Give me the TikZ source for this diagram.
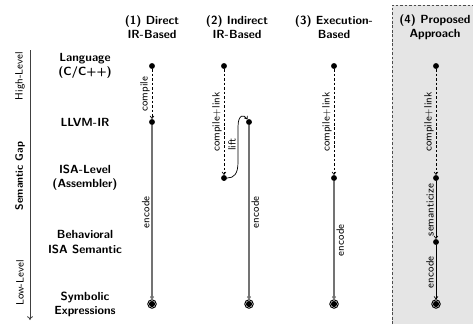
\documentclass[tikz,border=0pt]{standalone}
\usetikzlibrary{arrows.meta}
\begin{document}
\begin{tikzpicture}[x=0.8475pt, y=-0.8475pt,
  >={To[length=2.6pt,width=3.6pt]},
  hdr/.style={font=\sffamily\bfseries, align=center, inner sep=0pt},
  rowlbl/.style={font=\sffamily\bfseries, align=center, inner sep=0pt},
  axlbl/.style={font=\sffamily\small, rotate=90, inner sep=0pt},
  dotnode/.style={circle, fill=black, inner sep=0pt, minimum size=5pt},
  enddot/.style={circle, draw=black, line width=0.8pt, inner sep=0pt, minimum size=7.2pt,
    path picture={\fill[black] (path picture bounding box.center) circle (2.6pt);}},
  dep/.style={->, dash pattern=on 2.2pt off 1.6pt, line width=0.6pt},
  enc/.style={->, draw=black!55, line width=0.9pt},
  sem/.style={->, line width=0.6pt},
  lblL/.style={font=\sffamily\small, rotate=90, anchor=south, inner sep=1.6pt},
  lblR/.style={font=\sffamily\small, rotate=90, anchor=north, inner sep=1.6pt}]
\useasboundingbox (0,0) rectangle (473,324);
% proposed approach background
\fill[gray!20] (392,5) rectangle (473,324);
\draw[black!70, dash pattern=on 2.2pt off 1.6pt, line width=0.6pt] (392,324) -- (392,5) -- (473,5);
% headers
\node[hdr] (h1) at (152,27) {(1) Direct\\IR-Based};
\node[hdr] (h2) at (237,27) {(2) Indirect\\IR-Based};
\node[hdr] (h3) at (334,27) {(3) Execution-\\Based};
\node[hdr] (h4) at (435,27) {(4) Proposed\\Approach};
% row labels
\node[rowlbl] (r1) at (85,66) {Language\\(C/C++)};
\node[rowlbl] (r2) at (85,122) {LLVM-IR};
\node[rowlbl] (r3) at (85,178) {ISA-Level\\(Assembler)};
\node[rowlbl] (r4) at (85,242) {Behavioral\\ISA Semantic};
\node[rowlbl] (r5) at (85,304) {Symbolic\\Expressions};
% axis
\coordinate (axtop) at (30,50);
\coordinate (axbot) at (30,320);
\draw[-{To[length=3.2pt,width=5pt]}, black!75, line width=0.7pt] (axtop) -- (axbot);
\node[axlbl] (hl) at (20,76) {High-Level};
\node[axlbl, font=\sffamily\small\bfseries] (sg) at (20,176) {Semantic Gap};
\node[axlbl] (ll) at (20,283) {Low-Level};
% column 1
\node[dotnode] (c1a) at (152,66) {};
\node[dotnode] (c1b) at (152,122) {};
\node[enddot] (c1e) at (152,304) {};
\draw[dep] (c1a) -- node[lblL] {compile} (c1b);
\draw[enc] (c1b) -- node[lblL] {encode} (c1e);
% column 2
\node[dotnode] (c2a) at (224,66) {};
\node[dotnode] (c2b) at (224,178) {};
\node[dotnode] (c2c) at (249,122) {};
\node[enddot] (c2e) at (249,304) {};
\draw[dep] (c2a) -- node[lblL] {compile+link} (c2b);
\draw[sem] (c2b) .. controls (234,178) and (238,174) .. (238,162)
  -- node[lblL] {lift} (238,127) .. controls (238,114) and (244,114) .. (c2c);
\draw[enc] (c2c) -- node[lblR] {encode} (c2e);
% column 3
\node[dotnode] (c3a) at (334,66) {};
\node[dotnode] (c3b) at (334,178) {};
\node[enddot] (c3e) at (334,304) {};
\draw[dep] (c3a) -- node[lblL] {compile+link} (c3b);
\draw[enc] (c3b) -- node[lblR] {encode} (c3e);
% column 4
\node[dotnode] (c4a) at (436,66) {};
\node[dotnode] (c4b) at (436,178) {};
\node[dotnode] (c4c) at (436,242) {};
\node[enddot] (c4e) at (436,304) {};
\draw[dep] (c4a) -- node[lblL] {compile+link} (c4b);
\draw[sem] (c4b) -- node[lblL] {semanticize} (c4c);
\draw[sem] (c4c) -- node[lblL] {encode} (c4e);
\end{tikzpicture}
\end{document}
